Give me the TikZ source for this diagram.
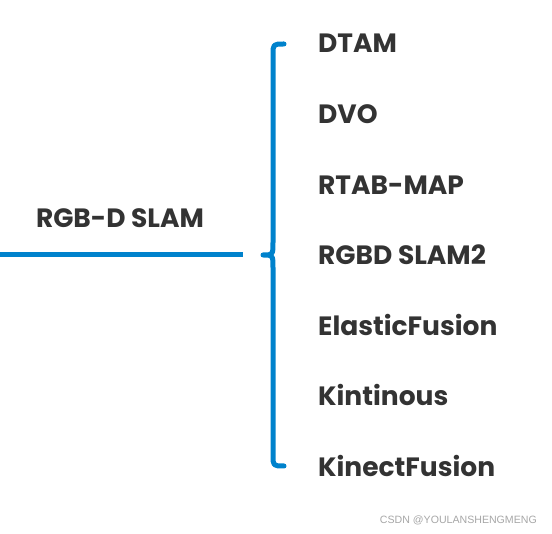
\documentclass[tikz,border=0pt]{standalone}
\usepackage{fontspec}
\setmainfont{Poppins}
\newfontfamily\creditfont{Liberation Sans}
\usepackage{tikz}
\usetikzlibrary{positioning,calc}
\usepackage{xcolor}
\definecolor{slamblue}{RGB}{0,130,204}
\definecolor{slamtext}{RGB}{51,51,51}

\begin{document}
\begin{tikzpicture}[
    x=1pt, y=-1pt,
    method/.style={anchor=west, inner sep=0pt, text=slamtext,
        font=\fontsize{26.5}{26.5}\selectfont\bfseries, text height=19pt, text depth=0pt},
    topic/.style={inner sep=0pt, text=slamtext,
        font=\fontsize{26.5}{26.5}\selectfont\bfseries, text height=19pt, text depth=0pt},
    bar/.style={draw=slamblue, line width=5pt},
    brace/.style={draw=slamblue, line width=5pt, line cap=round, line join=round},
    credit/.style={font=\creditfont\fontsize{10.6}{10.6}\selectfont, text=gray!70, anchor=east, inner sep=0pt}
]
\useasboundingbox (0,0) rectangle (552,534);

% Topic on the left
\coordinate (start) at (0,255);
\coordinate (stop) at (243,255);
\node[topic] (rgbd) at (120,218) {RGB-D SLAM};

% Methods
\node[method] (dtam) at (318,43) {DTAM};
\node[method] (dvo) at (318,114) {DVO};
\node[method] (rtab) at (318,185) {RTAB-MAP};
\node[method] (rgbd2) at (318,255) {RGBD SLAM2};
\node[method] (elastic) at (318,326) {ElasticFusion};
\node[method] (kintinous) at (318,396) {Kintinous};
\node[method] (kinect) at (318,467) {KinectFusion};

% Brace
\coordinate (tip) at (263,255);
\coordinate (top) at ($(dtam.west)+(-34,1)$);
\coordinate (bot) at ($(kinect.west)+(-34,-1)$);
\draw[bar] (start) -- (stop);
\draw[brace] (top) .. controls ($(top)+(-11,0)$) .. ($(top)+(-11,11)$)
    -- ($(tip)+(10,-13)$) .. controls ($(tip)+(10,0)$) .. (tip)
    .. controls ($(tip)+(10,0)$) .. ($(tip)+(10,13)$)
    -- ($(bot)+(-11,-11)$) .. controls ($(bot)+(-11,0)$) .. (bot);

% Watermark
\node[credit] (wm) at (537,520) {CSDN @YOULANSHENGMENG};

\end{tikzpicture}
\end{document}
